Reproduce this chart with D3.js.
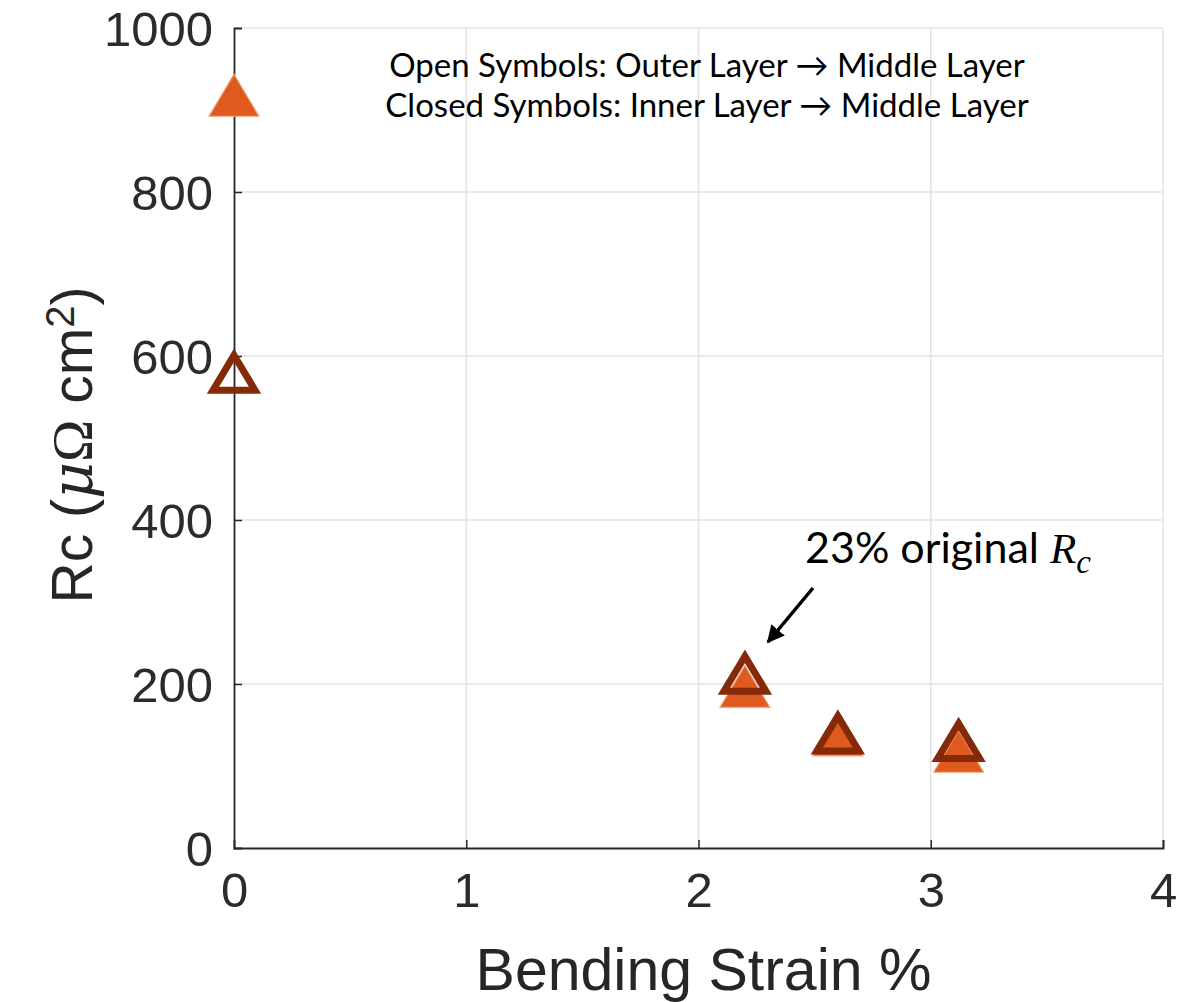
<!DOCTYPE html>
<html>
<head>
<meta charset="utf-8">
<script src="https://cdn.jsdelivr.net/npm/d3@7"></script>
<style>
  html, body { margin: 0; padding: 0; background: #fff; }
  svg { display: block; }
</style>
</head>
<body>
<svg id="chart" width="1178" height="1002"></svg>
<script>
// ---- data ----
const strain = [0, 2.2, 2.6, 3.12];
const closedRc = [918, 197, 138, 118];   // Inner Layer -> Middle Layer (filled)
const openRc = [582, 215, 142, 133];     // Outer Layer -> Middle Layer (open)
const xTicks = [0, 1, 2, 3, 4];
const yTicks = [0, 200, 400, 600, 800, 1000];
const xLabel = "Bending Strain %";
const noteLines = ["Open Symbols: Outer Layer \u2192 Middle Layer", "Closed Symbols: Inner Layer \u2192 Middle Layer"];
const calloutText = "23% original ";

const svg = d3.select("#chart");
const W = 1178, H = 1002;
const m = {left: 234, right: W - 1163, top: 28, bottom: H - 848};
const x = d3.scaleLinear().domain([0, 4]).range([m.left, W - m.right]);
const y = d3.scaleLinear().domain([0, 1000]).range([H - m.bottom, m.top]);

const gridColor = "#e3e3e3";
const axisColor = "#262626";
const sans = "'Liberation Sans', Arial, Helvetica, sans-serif";

// grid
const g = svg.append("g");
g.selectAll(".gx").data(xTicks.slice(1)).join("line")
  .attr("x1", d => x(d)).attr("x2", d => x(d))
  .attr("y1", y(0)).attr("y2", y(1000))
  .attr("stroke", gridColor).attr("stroke-width", 1.5);
g.selectAll(".gy").data(yTicks.slice(1)).join("line")
  .attr("x1", x(0)).attr("x2", x(4))
  .attr("y1", d => y(d)).attr("y2", d => y(d))
  .attr("stroke", gridColor).attr("stroke-width", 1.5);

// axes
const xAxis = d3.axisBottom(x).tickValues(xTicks).tickSize(-8).tickPadding(24).tickFormat(d3.format("d"));
const yAxis = d3.axisLeft(y).tickValues(yTicks).tickSize(-8).tickPadding(21).tickFormat(d3.format("d"));

const gx = svg.append("g").attr("transform", `translate(0,${y(0)})`).call(xAxis);
const gy = svg.append("g").attr("transform", `translate(${x(0)},0)`).call(yAxis);
[gx, gy].forEach(a => {
  a.select(".domain").attr("stroke", axisColor).attr("stroke-width", 1.8);
  a.selectAll(".tick line").attr("stroke", axisColor).attr("stroke-width", 1.5);
  a.selectAll(".tick text").attr("fill", "#2b2b2b").style("font-family", sans).style("font-size", "49px");
});
gx.selectAll(".tick text").attr("dy", "0.71em");
gy.selectAll(".tick text").attr("dy", "0.36em");
gx.selectAll(".tick").filter(d => d === 0).select("line").remove();
gy.selectAll(".tick").filter(d => d === 0 || d === 1000).select("line").remove();

// x label
svg.append("text")
  .attr("x", (x(0) + x(4)) / 2 + 5).attr("y", 990)
  .attr("text-anchor", "middle")
  .style("font-family", sans).style("font-size", "59px").attr("fill", "#262626")
  .text(xLabel);

// y label (rotated)
const yl = svg.append("text")
  .attr("transform", `translate(92,445) rotate(-90)`)
  .attr("text-anchor", "middle")
  .style("font-family", sans).style("font-size", "57px").attr("fill", "#262626");
yl.append("tspan").text("Rc (");
yl.append("tspan").style("font-family", "'DejaVu Serif', 'Liberation Serif', serif").style("font-style", "italic").text("\u03BC");
yl.append("tspan").style("font-family", "'Liberation Serif', 'DejaVu Serif', serif").text("\u03A9");
yl.append("tspan").text(" cm");
yl.append("tspan").attr("dy", "-0.45em").style("font-size", "40px").text("2");
yl.append("tspan").attr("dy", "0.32em").text(")");

// markers: triangle path centred on its bounding box
function tri(cx, cy, w, h) {
  const p = d3.path();
  p.moveTo(cx, cy - h / 2);
  p.lineTo(cx + w / 2, cy + h / 2);
  p.lineTo(cx - w / 2, cy + h / 2);
  p.closePath();
  return p.toString();
}
const closedData = strain.map((s, i) => ({s, v: closedRc[i]}));
const openData = strain.map((s, i) => ({s, v: openRc[i]}));

svg.append("g").selectAll("path").data(closedData).join("path")
  .attr("d", d => tri(x(d.s), y(d.v), 50, 42))
  .attr("fill", "#DF5A1F")
  .attr("stroke", "#F3A57E").attr("stroke-width", 1.2);

svg.append("g").selectAll("path").data(openData).join("path")
  .attr("d", d => tri(x(d.s), y(d.v) + 2, 42, 35))
  .attr("fill", "none")
  .attr("stroke", "#842A08").attr("stroke-width", 7)
  .attr("stroke-linejoin", "miter");

// note text
const noteFont = "Lato, 'Open Sans', sans-serif";
svg.append("g").selectAll("text").data(noteLines).join("text")
  .attr("x", 707).attr("y", (d, i) => 77 + i * 40)
  .attr("text-anchor", "middle")
  .style("font-family", noteFont).style("font-size", "33px").attr("fill", "#000")
  .text(d => d);

// callout
const ct = svg.append("text").attr("x", 805).attr("y", 563)
  .style("font-family", noteFont).style("font-size", "43px").attr("fill", "#000");
ct.append("tspan").text(calloutText);
ct.append("tspan").style("font-family", "'Liberation Serif', 'DejaVu Serif', serif").style("font-style", "italic").text("R");
ct.append("tspan").attr("dy", "0.3em").style("font-family", "'Liberation Serif', 'DejaVu Serif', serif").style("font-style", "italic").style("font-size", "33px").text("c");

// arrow
svg.append("defs").append("marker")
  .attr("id", "ah").attr("viewBox", "0 0 10 10").attr("refX", 9).attr("refY", 5)
  .attr("markerWidth", 5).attr("markerHeight", 5).attr("orient", "auto")
  .append("path").attr("d", "M0,0 L10,5 L0,10 z").attr("fill", "#000");
svg.append("line")
  .attr("x1", 813).attr("y1", 588).attr("x2", 768).attr("y2", 642)
  .attr("stroke", "#000").attr("stroke-width", 3.5).attr("marker-end", "url(#ah)");
</script>
</body>
</html>
